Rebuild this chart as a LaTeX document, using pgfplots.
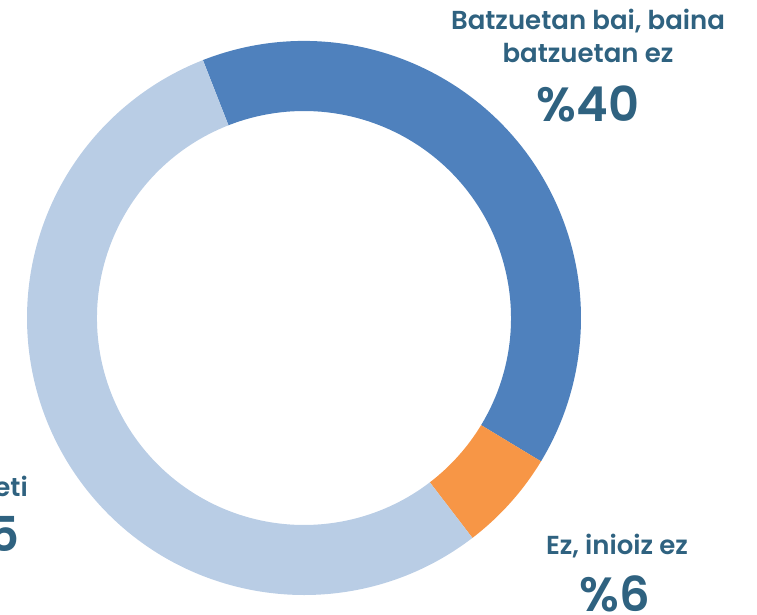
\documentclass[border=0pt]{standalone}
\usepackage{pgfplots}
\pgfplotsset{compat=1.18}
\usepackage{fontspec}
\setmainfont{Poppins}[BoldFont={Poppins SemiBold}]

\definecolor{darkseg}{RGB}{79,129,189}
\definecolor{orangeseg}{RGB}{247,150,70}
\definecolor{lightseg}{RGB}{185,205,229}
\definecolor{labeltxt}{RGB}{47,98,128}

% segment values (percent)
\def\valA{40}   % Batzuetan bai, baina batzuetan ez
\def\valB{6}    % Ez, inioiz ez
\def\valC{55}   % Beti

\begin{document}
\begin{tikzpicture}
\pgfmathsetmacro\tot{\valA+\valB+\valC}
\pgfmathsetmacro\aA{111.4}
\pgfmathsetmacro\aB{\aA-\valA/\tot*360}
\pgfmathsetmacro\aC{\aB-\valB/\tot*360}
\pgfmathsetmacro\aD{\aC-\valC/\tot*360}
\def\cx{304}\def\cy{297}\def\Ro{277}\def\Ri{207}
\tikzset{lab/.style={text=labeltxt, font=\fontsize{26}{30}\selectfont\bfseries},
         big/.style={text=labeltxt, font=\fontsize{48}{56}\selectfont\bfseries}}
\begin{axis}[
    width=757pt, height=615pt, scale only axis,
    xmin=0, xmax=757, ymin=0, ymax=615,
    hide axis, clip=false,
]
\fill[darkseg] ({\cx+\Ro*cos(\aA)},{\cy+\Ro*sin(\aA)}) arc[start angle=\aA, end angle=\aB, radius=\Ro pt]
    -- ({\cx+\Ri*cos(\aB)},{\cy+\Ri*sin(\aB)}) arc[start angle=\aB, end angle=\aA, radius=\Ri pt] -- cycle;
\fill[orangeseg] ({\cx+\Ro*cos(\aB)},{\cy+\Ro*sin(\aB)}) arc[start angle=\aB, end angle=\aC, radius=\Ro pt]
    -- ({\cx+\Ri*cos(\aC)},{\cy+\Ri*sin(\aC)}) arc[start angle=\aC, end angle=\aB, radius=\Ri pt] -- cycle;
\fill[lightseg] ({\cx+\Ro*cos(\aC)},{\cy+\Ro*sin(\aC)}) arc[start angle=\aC, end angle=\aD, radius=\Ro pt]
    -- ({\cx+\Ri*cos(\aD)},{\cy+\Ri*sin(\aD)}) arc[start angle=\aD, end angle=\aC, radius=\Ri pt] -- cycle;

\node[lab, anchor=base] at (588,585) {Batzuetan bai, baina};
\node[lab, anchor=base] at (588,552) {batzuetan ez};
\node[big, anchor=base] at (588,493) {\%\valA};
\node[lab, anchor=base] at (617,60) {Ez, inioiz ez};
\node[big, anchor=base] at (615,4) {\%\valB};
\node[lab, anchor=base east, inner xsep=0pt] at (28,118) {Beti};
\node[big, anchor=base east, inner xsep=0pt] at (20,63) {\%\valC};
\end{axis}
\pgfresetboundingbox
\path (0,0) rectangle (757pt,615pt);
\end{tikzpicture}
\end{document}
